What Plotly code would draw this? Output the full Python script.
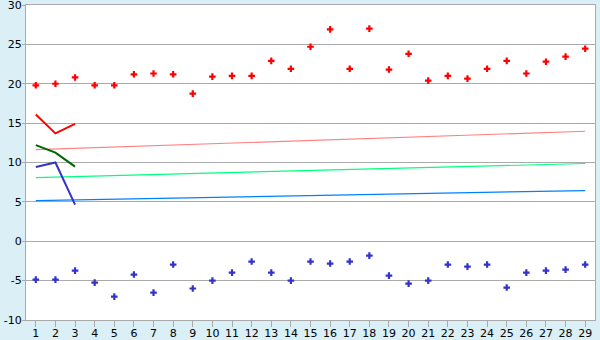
import plotly.graph_objects as go

days = list(range(1, 30))
high_pts = [19.8, 20.0, 20.8, 19.8, 19.8, 21.2, 21.3, 21.2, 18.75, 20.9,
            21.0, 21.0, 22.9, 21.9, 24.7, 26.9, 21.9, 27.0, 21.8, 23.8,
            20.4, 21.0, 20.65, 21.9, 22.9, 21.3, 22.8, 23.45, 24.45]
low_pts = [-4.87, -4.87, -3.73, -5.25, -7.03, -4.23, -6.52, -2.96, -6.0, -5.0,
           -3.98, -2.58, -3.98, -5.0, -2.58, -2.83, -2.58, -1.82, -4.36, -5.38,
           -5.0, -2.96, -3.22, -2.96, -5.88, -3.98, -3.73, -3.6, -2.96]
line_days = [1, 2, 3]
red_line = [16.1, 13.7, 14.9]
green_line = [12.2, 11.26, 9.48]
blue_line = [9.44, 10.0, 4.66]
trend_days = [1, 29]
pink_trend = [11.64, 13.97]
green_trend = [8.09, 9.87]
blue_trend = [5.17, 6.44]
y_ticks = list(range(-10, 31, 5))
y_labels = ["-10", "-5", "0", "5", "10", "15", "20", "25", "30"]

fig = go.Figure()
for ys, col in [(pink_trend, "#FF8080"), (green_trend, "#00FF80"), (blue_trend, "#0080FF")]:
    fig.add_trace(go.Scatter(x=trend_days, y=ys, mode="lines",
                             line=dict(color=col, width=1.2), hoverinfo="skip"))
for ys, col in [(red_line, "#FF0000"), (green_line, "#006600"), (blue_line, "#3333CC")]:
    fig.add_trace(go.Scatter(x=line_days, y=ys, mode="lines",
                             line=dict(color=col, width=2)))
fig.add_trace(go.Scatter(x=days, y=high_pts, mode="markers",
                         marker=dict(symbol="cross", size=5.5, color="#FF0000", line=dict(width=0))))
fig.add_trace(go.Scatter(x=days, y=low_pts, mode="markers",
                         marker=dict(symbol="cross", size=5.5, color="#3333CC", line=dict(width=0))))

fig.update_layout(
    width=600, height=340,
    margin=dict(l=26, r=5, t=5, b=20),
    paper_bgcolor="#DAEFF6",
    plot_bgcolor="#FFFFFF",
    showlegend=False,
    font=dict(family="DejaVu Sans", size=11, color="#000000"),
)
fig.update_xaxes(range=[0.5, 29.5], tickmode="array", tickvals=days,
                 ticktext=[str(d) for d in days], automargin=False,
                 ticklabeloverflow="allow",
                 showgrid=False, zeroline=False,
                 showline=True, linecolor="#AAAAAA", linewidth=1, mirror=True,
                 ticks="outside", ticklen=6, tickcolor="#AAAAAA", ticklabelstandoff=-3)
fig.update_yaxes(range=[-10, 30], tickmode="array", tickvals=y_ticks, ticktext=y_labels,
                 automargin=False, ticklabeloverflow="allow",
                 showgrid=True, gridcolor="#AAAAAA", gridwidth=1, zeroline=False,
                 showline=True, linecolor="#AAAAAA", linewidth=1, mirror=True,
                 ticks="outside", ticklen=3, tickcolor="#AAAAAA", ticklabelstandoff=-2)

fig.write_html("out.html")
